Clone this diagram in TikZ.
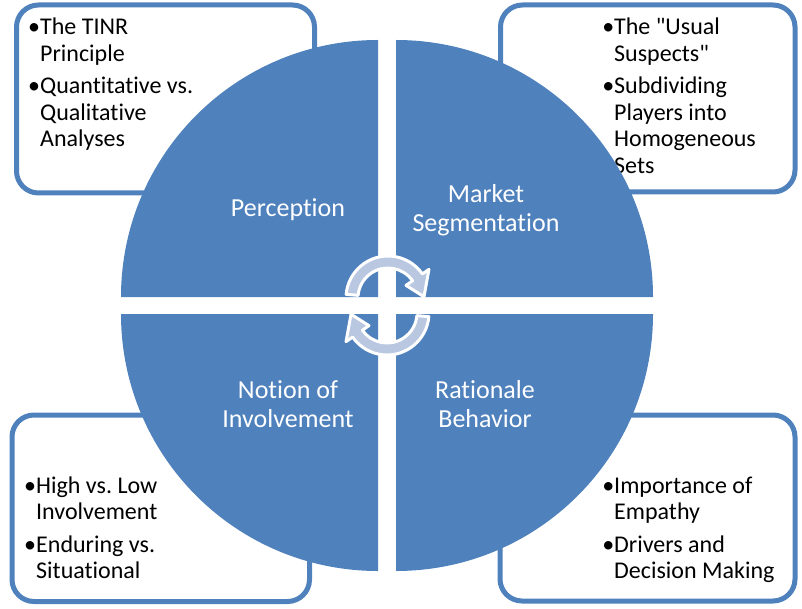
\documentclass[tikz,border=0pt]{standalone}
\usepackage{fontspec}
\setmainfont{Carlito}[Ligatures={TeXOff,NoCommon}]
\definecolor{qblue}{HTML}{4F81BD}
\definecolor{arrowfill}{HTML}{B9C7E0}
\newcommand{\bitem}{\leavevmode\llap{•}}
\begin{document}
\begin{tikzpicture}[x=1pt,y=-1pt,
  box/.style={draw=qblue, line width=5pt, rounded corners=22pt, fill=white},
  quad/.style={fill=qblue},
  bul/.style={anchor=base west, inner sep=0pt, text width=250pt, align=flush left, font=\fontsize{24}{26.5}\selectfont\frenchspacing},
  lab/.style={text=white, align=center, inner sep=0pt, font=\fontsize{26}{29}\selectfont},
  cyc/.style={fill=arrowfill, draw=white, line width=3pt, line join=round}]
\useasboundingbox (0,0) rectangle (802,609);
% corner boxes
\draw[box] (16.5,5) rectangle (314.5,193);
\draw[box] (500.5,5) rectangle (795,192);
\draw[box] (12,415) rectangle (309.5,601.5);
\draw[box] (500,415) rectangle (795,601);
% bullet texts
\node[bul] (tl) at (40,35) {\bitem The TINR\\Principle\\[6pt]\bitem Quantitative vs.\\Qualitative\\Analyses};
\node[bul] (tr) at (614,35) {\bitem The "Usual\\Suspects"\\[6pt]\bitem Subdividing\\Players into\\Homogeneous\\Sets};
\node[bul] (bl) at (36,493) {\bitem High vs. Low\\Involvement\\[6pt]\bitem Enduring vs.\\Situational};
\node[bul] (br) at (614,493) {\bitem Importance of\\Empathy\\[6pt]\bitem Drivers and\\Decision Making};
% quadrants
\fill[quad] (378,297) -- (121,297) arc[start angle=180, end angle=270, radius=257] -- cycle;
\fill[quad] (396,297) -- (396,40) arc[start angle=270, end angle=360, radius=257] -- cycle;
\fill[quad] (396,314) -- (653,314) arc[start angle=0, end angle=90, radius=257] -- cycle;
\fill[quad] (378,314) -- (378,571) arc[start angle=90, end angle=180, radius=257] -- cycle;
% labels
\node[lab] (perc) at (288,210) {Perception};
\node[lab] (mkt) at (486,210.5) {Market\\Segmentation};
\node[lab] (inv) at (288,404) {Notion of\\Involvement};
\node[lab] (rat) at (485,404) {Rationale\\Behavior};
% cycle arrows
\begin{scope}[shift={(388,298)}]
\filldraw[cyc] (185:42) arc[start angle=185, end angle=325, radius=42] -- (325:50) -- (358:36) -- (325:22) -- (325:30) arc[start angle=325, end angle=185, radius=30] -- cycle;
\end{scope}
\begin{scope}[shift={(387,313)}]
\filldraw[cyc] (5:42) arc[start angle=5, end angle=145, radius=42] -- (145:50) -- (178:36) -- (145:22) -- (145:30) arc[start angle=145, end angle=5, radius=30] -- cycle;
\end{scope}
\end{tikzpicture}
\end{document}
